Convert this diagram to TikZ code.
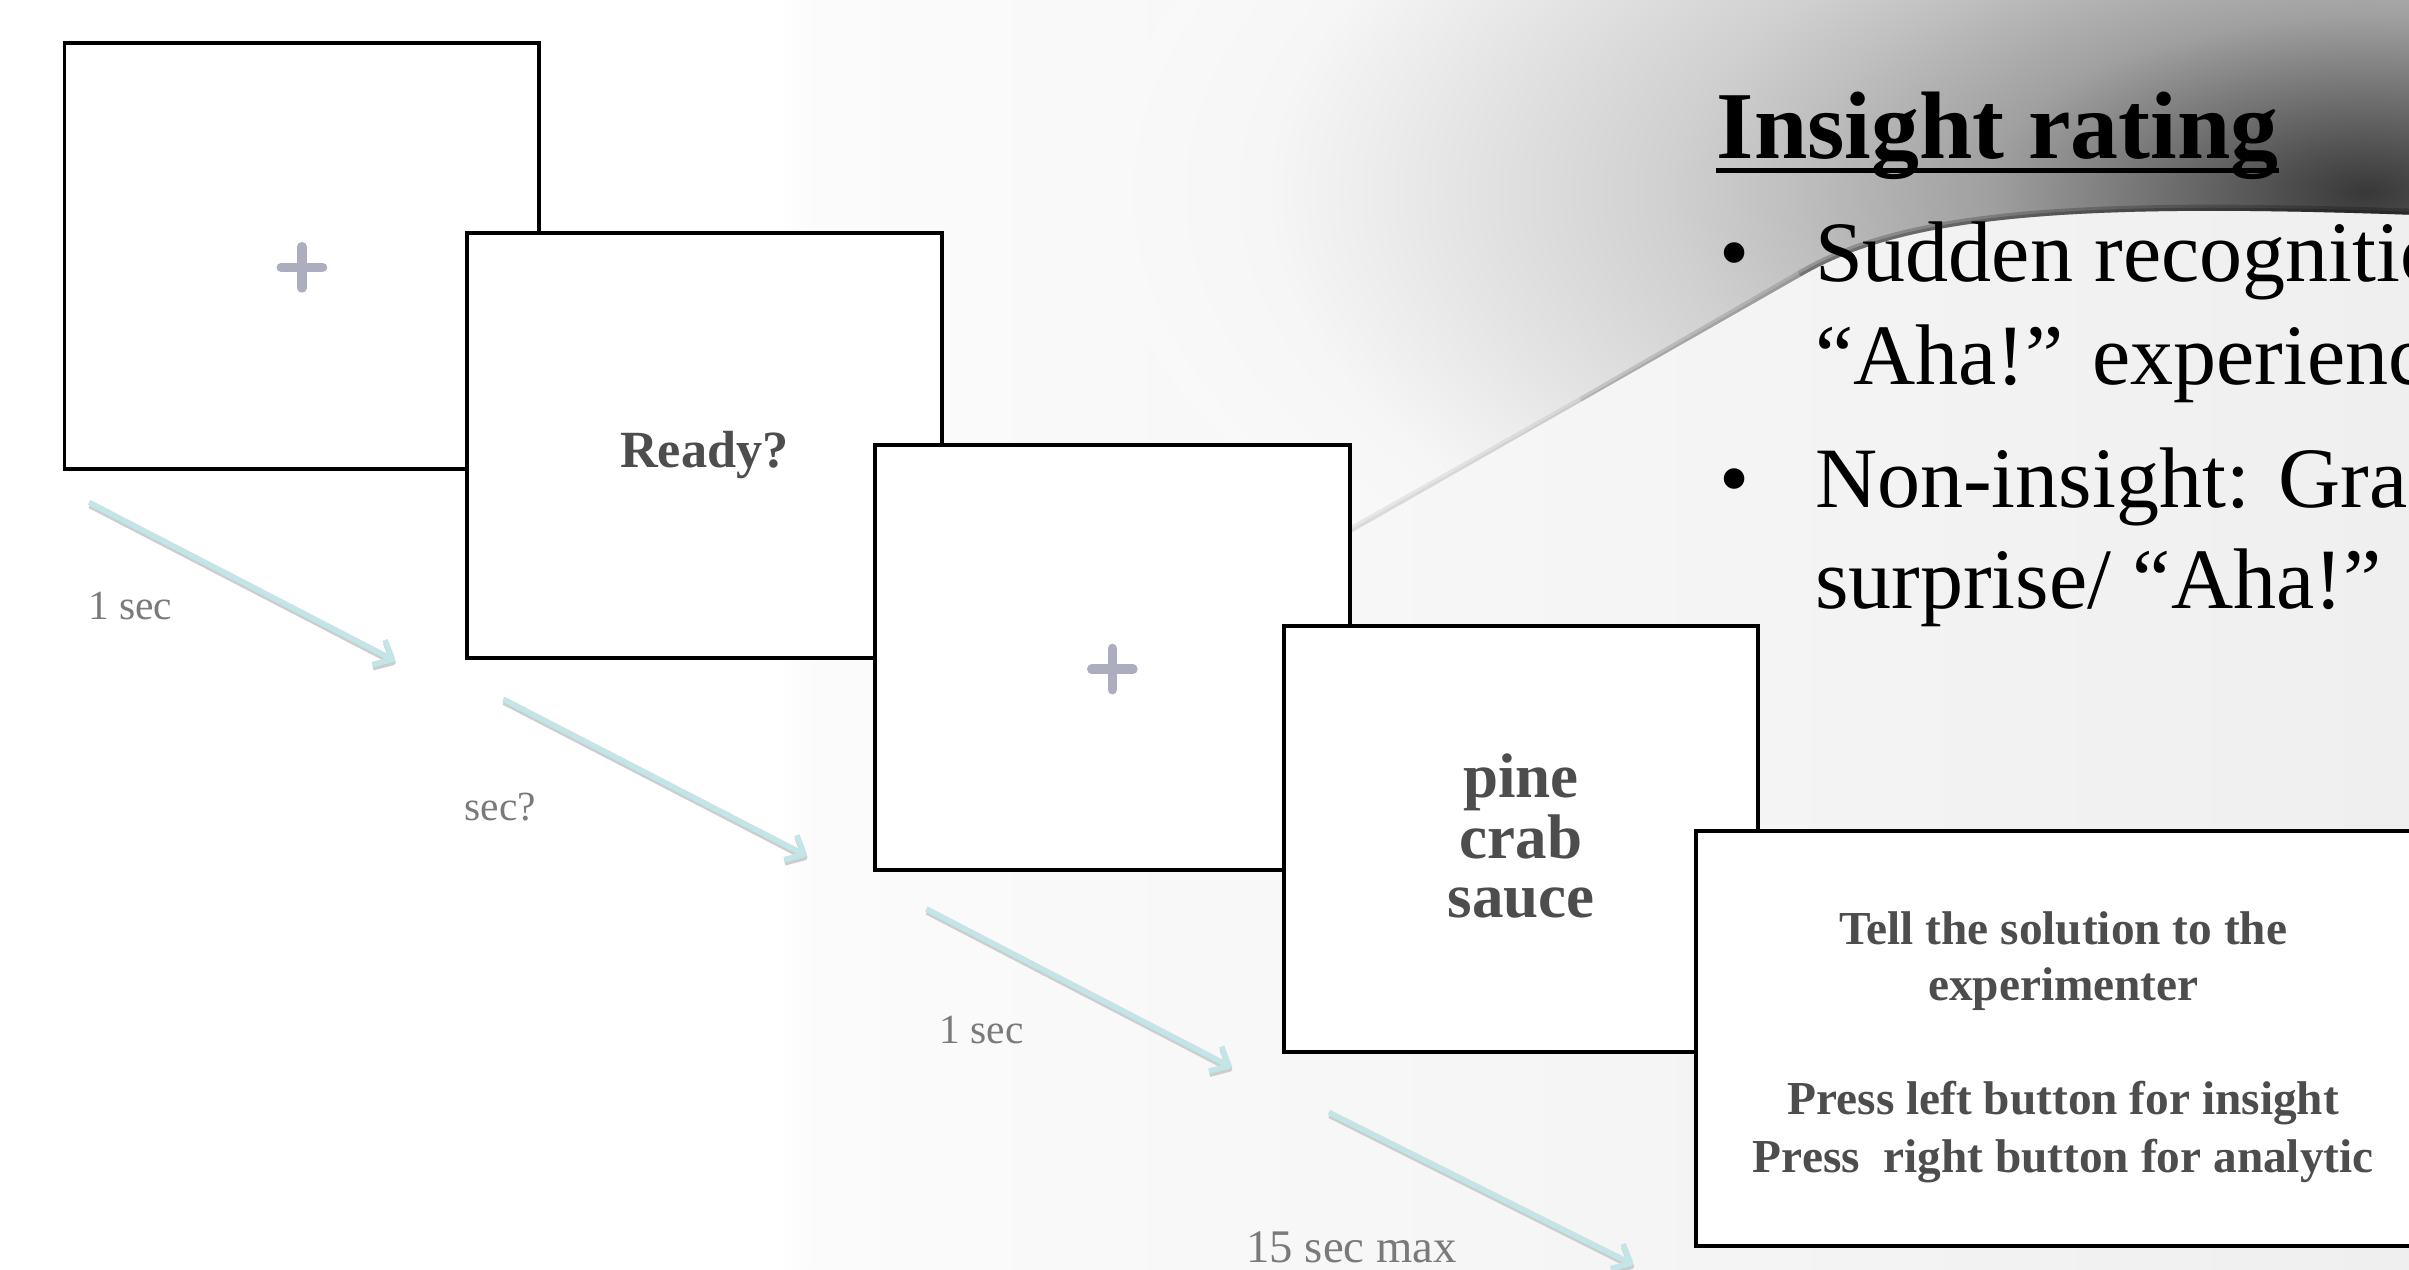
\documentclass[tikz,border=0pt]{standalone}
\usepackage{fontspec}
\setmainfont{Liberation Serif}
\usetikzlibrary{arrows.meta}
\definecolor{arrowc}{HTML}{C4E5E8}
\definecolor{shadowc}{HTML}{CDCDCD}
\definecolor{plusc}{HTML}{ADADC0}
\definecolor{boxtext}{HTML}{4D4D4D}
\definecolor{labelc}{HTML}{7A7A7A}
\definecolor{bgA}{HTML}{FBFBFB}
\definecolor{bgB}{HTML}{EFEFEF}
\definecolor{sA}{HTML}{383838}
\definecolor{sB}{HTML}{505050}
\definecolor{sC}{HTML}{A0A0A0}
\definecolor{sD}{HTML}{C0C0C0}
\definecolor{sE}{HTML}{D0D0D0}
\definecolor{sF}{HTML}{ECECEC}
\definecolor{sG}{HTML}{F6F6F6}
\definecolor{sH}{HTML}{F9F9F9}
\pgfdeclareradialshading{darkspot}{\pgfpoint{0bp}{0bp}}{color(0bp)=(sA); color(13.5bp)=(sB); color(57bp)=(sC); color(87.5bp)=(sD); color(105bp)=(sE); color(149bp)=(sF); color(166bp)=(sG); color(190bp)=(sH)}
\tikzset{
  screen/.style={draw=black, line width=1.25pt, fill=white, minimum width=154.5pt, minimum height=138.5pt, inner sep=0pt, outer sep=0pt},
  plusmark/.style={draw=plusc, line width=3pt, line cap=round},
  flow/.style={draw=arrowc, line width=1.8pt, line join=round, -{Straight Barb[length=5pt,width=9pt,line join=round]}},
  flowshadow/.style={draw=shadowc, line width=1.8pt, line join=round, -{Straight Barb[length=5pt,width=9pt,line join=round]}, transform canvas={shift={(0.2pt,-1pt)}}},
  lab/.style={font=\fontsize{13.5}{16}\selectfont, text=labelc, anchor=base west, inner sep=0pt},
  boxtxt/.style={font=\fontsize{15.4}{18}\selectfont\bfseries, text=boxtext, anchor=base, inner sep=0pt},
  cuetxt/.style={font=\fontsize{20.5}{22}\selectfont\bfseries, text=boxtext, anchor=base, inner sep=0pt},
  readytxt/.style={font=\fontsize{17}{20}\selectfont\bfseries, text=boxtext, anchor=base, inner sep=0pt},
  titletxt/.style={font=\fontsize{31.2}{36}\selectfont\bfseries, anchor=base west, inner sep=0pt},
  bultxt/.style={font=\fontsize{28}{32}\selectfont, anchor=base west, inner sep=0pt}
}
\begin{document}
\begin{tikzpicture}[x=0.5pt,y=-0.5pt]
\useasboundingbox (0,0) rectangle (1568,826);
\clip (0,0) rectangle (1568,826);
% background
\fill[white] (0,0) rectangle (1568,826);
\shade[left color=white, right color=bgA] (505,0) rectangle (530,826);
\shade[left color=bgA, right color=bgB] (530,0) rectangle (1568,826);
\begin{scope}
  \clip (530,-5) -- (1575,-5) -- (1575,140) .. controls (1350,132) and (1240,140) .. (1172,180) -- (879,347) -- (700,449) -- (530,449) -- cycle;
  \node[inner sep=0pt, xscale=2.15, transform shape] (spot) at (1540,125) {\pgfuseshading{darkspot}};
  \draw[black, opacity=0.22, line width=4pt] (1575,140) .. controls (1350,132) and (1240,140) .. (1172,180);
  \draw[black, opacity=0.22, line width=2pt] (1575,140) .. controls (1350,132) and (1240,140) .. (1172,180);
  \draw[black, opacity=0.13, line width=4pt] (1172,180) -- (1030,262);
  \draw[black, opacity=0.10, line width=2pt] (1172,180) -- (1030,262);
  \draw[black, opacity=0.07, line width=4pt] (1030,262) -- (879,347);
  \draw[black, opacity=0.05, line width=2pt] (1030,262) -- (879,347);
\end{scope}

% screens
\node[screen] (b1) at (196.5,166.5) {};
\draw[plusmark] ([xshift=-6.75pt,yshift=-3.75pt]b1.center) -- ([xshift=6.75pt,yshift=-3.75pt]b1.center);
\draw[plusmark] ([yshift=3pt]b1.center) -- ([yshift=-10.5pt]b1.center);

\node[screen] (b2) at (458.5,290) {};
\node[readytxt] (ready) at (458.5,304) {Ready?};

\node[screen] (b3) at (724,428) {};
\draw[plusmark] ([xshift=-6.75pt,yshift=-3.75pt]b3.center) -- ([xshift=6.75pt,yshift=-3.75pt]b3.center);
\draw[plusmark] ([yshift=3pt]b3.center) -- ([yshift=-10.5pt]b3.center);

\node[screen] (b4) at (990,546) {};
\node[cuetxt] (w1) at (990,519) {pine};
\node[cuetxt] (w2) at (990,558.6) {crab};
\node[cuetxt] (w3) at (990,597.5) {sauce};

\node[screen, minimum width=298pt, minimum height=135pt] (b5) at (1402,676) {};
\node[boxtxt] (t1) at (1343,615) {Tell the solution to the};
\node[boxtxt] (t2) at (1343,651.5) {experimenter};
\node[boxtxt] (t3) at (1343,725.7) {Press left button for insight};
\node[boxtxt] (t4) at (1343,763) {Press\ \ right button for analytic};

% arrows
\coordinate (a1s) at (58,327);   \coordinate (a1e) at (257,430);
\coordinate (a2s) at (327.5,455); \coordinate (a2e) at (525,557);
\coordinate (a3s) at (603,591.6); \coordinate (a3e) at (801.5,694.6);
\coordinate (a4s) at (865,724);  \coordinate (a4e) at (1063,823);
\foreach \s/\e in {a1s/a1e,a2s/a2e,a3s/a3e,a4s/a4e}{
  \draw[flowshadow] (\s) -- (\e);
  \draw[flow] (\s) -- (\e);
}

% labels
\node[lab] (l1) at (57,403.5) {1 sec};
\node[lab] (l2) at (302,534) {sec?};
\node[lab] (l3) at (611,679) {1 sec};
\node[lab, font=\fontsize{15.2}{18}\selectfont] (l4) at (811,822) {15 sec max};

% insight rating text
\node[titletxt] (title) at (1117,103) {Insight rating};
\draw[line width=1.75pt] ([yshift=-4pt]title.base west) -- ([yshift=-4pt]title.base east);
\node[bultxt] (d1) at (1119,183) {•};
\node[bultxt] (s1) at (1181,183) {Sudden recognition};
\node[bultxt] (s2) at (1181,250) {“Aha!” experience};
\node[bultxt] (d2) at (1119,330) {•};
\node[bultxt] (s3) at (1181,330) {Non-insight: Gradual};
\node[bultxt] (s4) at (1181,396) {surprise/ “Aha!”};
\end{tikzpicture}
\end{document}
